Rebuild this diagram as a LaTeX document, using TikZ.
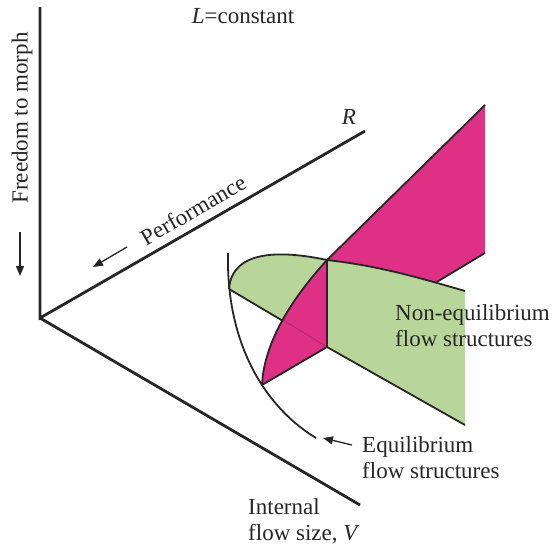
\documentclass[tikz,border=0pt]{standalone}
\usepackage{fontspec}
\setmainfont{Liberation Serif}
\usetikzlibrary{arrows.meta}
\definecolor{pinkf}{RGB}{222,48,132}
\definecolor{greenf}{RGB}{185,214,154}
\definecolor{ink}{RGB}{38,38,38}
\begin{document}
\begin{tikzpicture}[x=1pt,y=-1pt,
  axis/.style={draw=ink,line width=2.8pt},
  edge/.style={draw=ink,line width=1.8pt},
  lbl/.style={font=\fontsize{23}{26}\selectfont,inner sep=0pt,text=ink},
  ptr/.style={draw=ink,line width=1.3pt,-{Triangle[length=10pt,width=8pt]}}]
\useasboundingbox (0,0) rectangle (558,550);
% key points
\coordinate (O) at (40,318);
\coordinate (Ytop) at (40,7);
\coordinate (Rend) at (365,131);
\coordinate (Vend) at (360,505);
\coordinate (P) at (327,260);
\coordinate (Q) at (327,347);
\coordinate (A) at (262,385);
\coordinate (B) at (229,289);
\coordinate (X) at (283,320);
\coordinate (T) at (485,105);
\coordinate (U) at (485,253);
\coordinate (V) at (385,313);
\coordinate (G1) at (465,291);
\coordinate (G2) at (465,425);
\coordinate (E1) at (228,253);
\coordinate (E2) at (316,438);
% green left panel
\fill[greenf] (P) .. controls (280,250) and (232,250) .. (B) -- (Q) -- cycle;
% pink right panel
\fill[pinkf] (P) -- (T) -- (U) -- (V) -- cycle;
\draw[edge] (P) -- (T);
\draw[edge] (U) -- (V);
% green right panel
\fill[greenf] (P) .. controls (380,266) and (420,278) .. (G1) -- (G2) -- (Q) -- cycle;
\draw[edge] (P) .. controls (380,266) and (420,278) .. (G1);
\draw[edge] (Q) -- (G2);
% hidden line of the green left panel
\draw[edge] (B) -- (Q);
% pink left panel
\fill[pinkf] (A) .. controls (264,340) and (295,295) .. (P) -- (Q) -- cycle;
\draw[pinkf!82!black,line width=0.8pt] (X) -- (Q);
\draw[edge] (A) .. controls (264,340) and (295,295) .. (P) -- (Q) -- (A);
\draw[edge] (P) .. controls (280,250) and (232,250) .. (B);
% equilibrium curve
\draw[edge] (E1) .. controls (226,340) and (262,405) .. (E2);
% axes
\draw[axis] (Ytop) -- (O) -- (Rend);
\draw[axis] (O) -- (Vend);
% arrows
\coordinate (pa1) at (127,247);
\coordinate (pa2) at (93,267);
\draw[ptr] (pa1) -- (pa2);
\coordinate (fa1) at (20,232);
\coordinate (fa2) at (20,276);
\draw[ptr] (fa1) -- (fa2);
\coordinate (ea1) at (352,445);
\coordinate (ea2) at (323,438);
\draw[ptr] (ea1) -- (ea2);
% labels
\node[lbl] (lc) at (243,16) {\textit{L}=constant};
\node[lbl] (rl) at (349,117) {\textit{R}};
\node[lbl,rotate=30] (perf) at (193,210) {Performance};
\node[lbl,rotate=90] (free) at (22,118) {Freedom to morph};
\node[lbl,align=left,anchor=north west] (neq) at (395,304) {Non-equilibrium\\flow structures};
\node[lbl,align=left,anchor=north west] (eq) at (362,436) {Equilibrium\\flow structures};
\node[lbl,align=left,anchor=north west] (ifs) at (248,498) {Internal\\flow size, \textit{V}};
\end{tikzpicture}
\end{document}
